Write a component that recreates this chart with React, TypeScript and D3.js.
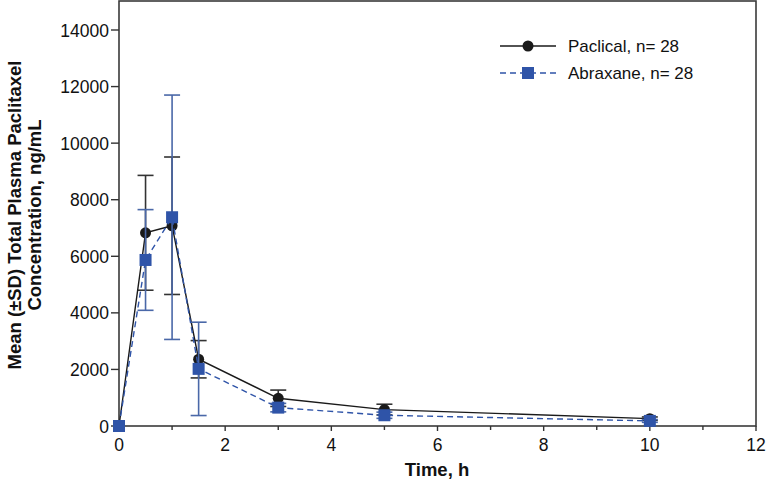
import React from "react";
import * as d3 from "d3";

const times = [0, 0.5, 1, 1.5, 3, 5, 10];
const paclicalMean = [0, 6830, 7080, 2360, 980, 580, 260];
const paclicalSD = [0, 2030, 2430, 660, 290, 190, 60];
const abraxaneMean = [0, 5870, 7380, 2020, 650, 380, 180];
const abraxaneSD = [0, 1780, 4320, 1650, 150, 110, 50];
const xTicks = [0, 2, 4, 6, 8, 10, 12];
const xMinorTicks = [1, 3, 5, 7, 9, 11];
const yTicks = [0, 2000, 4000, 6000, 8000, 10000, 12000, 14000];
const legendLabels = ["Paclical, n= 28", "Abraxane, n= 28"];

const W = 768;
const H = 481;
const M = { left: 119, right: 756, top: 1, bottom: 426 };
const FONT = "'Liberation Sans', Arial, Helvetica, sans-serif";
const BLACK = "#1a1a1a";
const BLUE = "#2f54a8";
const BLUE_ERR = "#4a68a8";

export default function App() {
  const x = d3.scaleLinear().domain([0, 12]).range([M.left, M.right]);
  const y = d3.scaleLinear().domain([0, 14000]).range([M.bottom, 30]);
  const line = d3
    .line<number>()
    .x((_, i) => x(times[i]))
    .y((d) => y(d));

  const errBars = (means: number[], sds: number[], color: string, cap: number) =>
    means.map((m, i) =>
      sds[i] > 0 ? (
        <g key={i} stroke={color} strokeWidth={1.6}>
          <line x1={x(times[i])} x2={x(times[i])} y1={y(m - sds[i])} y2={y(m + sds[i])} />
          <line x1={x(times[i]) - cap} x2={x(times[i]) + cap} y1={y(m + sds[i])} y2={y(m + sds[i])} />
          <line x1={x(times[i]) - cap} x2={x(times[i]) + cap} y1={y(m - sds[i])} y2={y(m - sds[i])} />
        </g>
      ) : null
    );

  return (
    <svg width={W} height={H} style={{ position: "absolute", left: 0, top: 0 }} fontFamily={FONT}>
      <rect x={0} y={0} width={W} height={H} fill="#fff" />
      <rect
        x={M.left}
        y={M.top}
        width={M.right - M.left}
        height={M.bottom - M.top}
        fill="none"
        stroke="#3a3a3a"
        strokeWidth={1.6}
      />
      {xTicks.map((t) => (
        <g key={t}>
          <line x1={x(t)} x2={x(t)} y1={M.bottom} y2={M.bottom + 5} stroke="#333" strokeWidth={1.4} />
          <text x={x(t)} y={451} textAnchor="middle" fontSize={17.5} fill="#111">
            {t}
          </text>
        </g>
      ))}
      {xMinorTicks.map((t) => (
        <line key={t} x1={x(t)} x2={x(t)} y1={M.bottom} y2={M.bottom + 4} stroke="#333" strokeWidth={1.4} />
      ))}
      {yTicks.map((t) => (
        <g key={t}>
          <line x1={M.left - 8} x2={M.left} y1={y(t)} y2={y(t)} stroke="#333" strokeWidth={1.4} />
          <text x={M.left - 10} y={y(t) + 6.5} textAnchor="end" fontSize={17.5} fill="#111">
            {t}
          </text>
        </g>
      ))}
      <text x={437} y={476} textAnchor="middle" fontSize={18.5} fontWeight="bold" fill="#111">
        Time, h
      </text>
      <g transform={`translate(0, 215) rotate(-90)`}>
        <text x={0} y={21} textAnchor="middle" fontSize={18.5} fontWeight="bold" fill="#111">
          Mean (±SD) Total Plasma Paclitaxel
        </text>
        <text x={0} y={41} textAnchor="middle" fontSize={18.5} fontWeight="bold" fill="#111">
          Concentration, ng/mL
        </text>
      </g>
      {errBars(paclicalMean, paclicalSD, "#333", 8)}
      <path d={line(paclicalMean) || ""} fill="none" stroke={BLACK} strokeWidth={1.4} />
      {paclicalMean.map((m, i) => (
        <circle key={i} cx={x(times[i])} cy={y(m)} r={5.5} fill={BLACK} />
      ))}
      {errBars(abraxaneMean, abraxaneSD, BLUE_ERR, 8)}
      <path d={line(abraxaneMean) || ""} fill="none" stroke={BLUE} strokeWidth={1.4} strokeDasharray="6,4" />
      {abraxaneMean.map((m, i) => (
        <rect key={i} x={x(times[i]) - 6} y={y(m) - 6} width={12} height={12} fill={BLUE} />
      ))}
      <g>
        <line x1={500} x2={556} y1={46} y2={46} stroke={BLACK} strokeWidth={1.4} />
        <circle cx={528} cy={46} r={5.5} fill={BLACK} />
        <text x={568} y={52} fontSize={17} fill="#111">
          {legendLabels[0]}
        </text>
        <line x1={500} x2={556} y1={73} y2={73} stroke={BLUE} strokeWidth={1.4} strokeDasharray="6,4" />
        <rect x={522} y={67} width={12} height={12} fill={BLUE} />
        <text x={568} y={79} fontSize={17} fill="#111">
          {legendLabels[1]}
        </text>
      </g>
    </svg>
  );
}
